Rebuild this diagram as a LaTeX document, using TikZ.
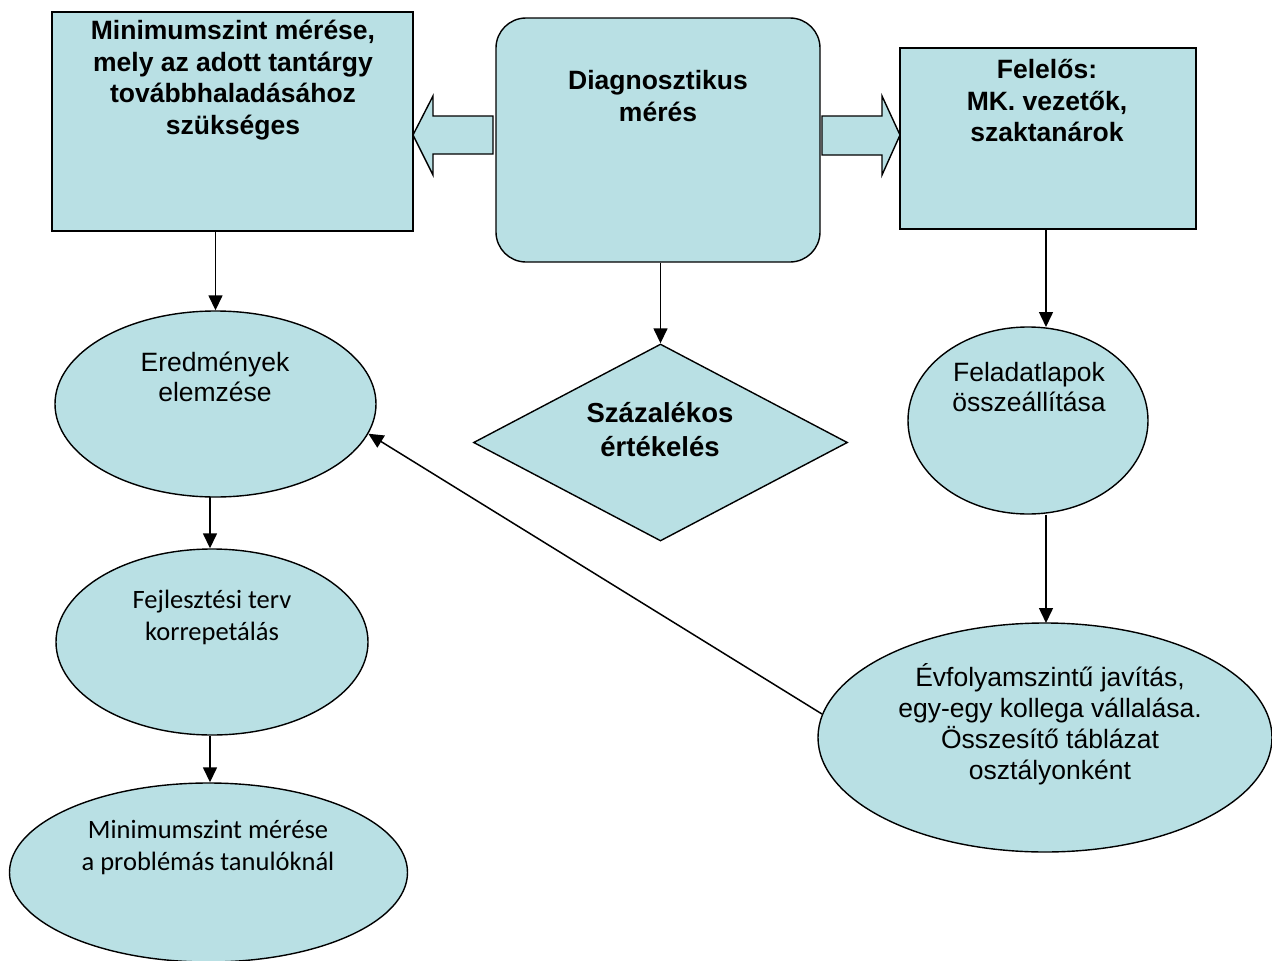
\documentclass[tikz,border=0pt]{standalone}
\usepackage{fontspec}
\setmainfont{Liberation Sans}
\newfontfamily\calib{Carlito}
\usetikzlibrary{shapes.geometric,arrows.meta}
\definecolor{fillb}{RGB}{185,224,228}
\tikzset{
  shp/.style={draw=black, line width=1.4pt, fill=fillb, inner sep=0pt},
  rectbox/.style={shp, rectangle},
  ellbox/.style={shp, ellipse},
  bt/.style={font=\fontsize{26.5}{31.5}\selectfont\bfseries, align=center, inner sep=0pt},
  rt/.style={font=\fontsize{26.5}{30.5}\selectfont, align=center, inner sep=0pt},
  ct/.style={font=\calib\fontsize{26.5}{32}\selectfont, align=center, inner sep=0pt},
  conn/.style={draw=black, line width=1.5pt, -{Triangle[length=15pt,width=14pt]}},
  blk/.style={draw=black, line width=1.4pt, fill=fillb, line join=miter}
}
\begin{document}
\begin{tikzpicture}[x=1pt,y=-1pt]
\useasboundingbox (0,0) rectangle (1272,961);
% boxes
\node[rectbox, minimum width=361pt, minimum height=219pt] (lr) at (232.5,121.5) {};
\node[shp, rectangle, rounded corners=30pt, minimum width=324pt, minimum height=244pt] (cr) at (658,140) {};
\node[rectbox, minimum width=296pt, minimum height=181pt] (rr) at (1048,138.5) {};
% block arrows
\draw[blk] (493,116) -- (433,116) -- (433,96) -- (413,135) -- (433,175) -- (433,154) -- (493,154) -- cycle;
\draw[blk] (822,116) -- (882,116) -- (882,96) -- (900,135) -- (882,175) -- (882,155) -- (822,155) -- cycle;
% ellipses
\node[ellbox, minimum width=321pt, minimum height=186pt] (er) at (215.5,404) {};
\node[ellbox, minimum width=312pt, minimum height=186pt] (fe) at (212,642) {};
\node[ellbox, minimum width=398pt, minimum height=179pt] (mi) at (208.5,872.5) {};
\node[ellbox, minimum width=240pt, minimum height=187pt] (fl) at (1028,420.5) {};
\node[ellbox, minimum width=454pt, minimum height=229pt] (ev) at (1045,737.5) {};
\node[shp, diamond, minimum width=374pt, minimum height=197pt] (dm) at (660.5,442.5) {};
% texts
\node[bt] (tlr) at (233,80) {Minimumszint mérése,\\mely az adott tantárgy\\továbbhaladásához\\szükséges};
\node[bt] (tcr) at (658,96) {Diagnosztikus\\mérés};
\node[bt] (trr) at (1047,101) {Felelős:\\MK. vezetők,\\szaktanárok};
\node[bt, font=\fontsize{27.5}{34}\selectfont\bfseries] (tdm) at (660,430) {Százalékos\\értékelés};
\node[rt] (ter) at (215,377) {Eredmények\\elemzése};
\node[rt] (tfl) at (1029,387) {Feladatlapok\\összeállítása};
\node[ct] (tfe) at (212,617) {Fejlesztési terv\\korrepetálás};
\node[ct] (tmi) at (208,848) {Minimumszint mérése\\a problémás tanulóknál};
\node[rt, font=\fontsize{26.5}{31}\selectfont] (tev) at (1050,724) {Évfolyamszintű javítás,\\egy-egy kollega vállalása.\\Összesítő táblázat\\osztályonként};
% connectors
\draw[conn] (er.north |- lr.south) -- (er.north);
\draw[conn] (cr.south -| dm.north) -- (dm.north);
\coordinate (flin) at (1046,327);
\draw[conn] (rr.south -| flin) -- (flin);
\draw[conn] (210,497) coordinate (erb) -- (fe.north -| erb);
\draw[conn] (fe.south -| erb) -- (mi.north -| erb);
\coordinate (evt) at (1046,623);
\draw[conn] (flin |- fl.south) -- (evt);
\draw[conn] (ev.174.5) -- (er.-11);
\end{tikzpicture}
\end{document}
